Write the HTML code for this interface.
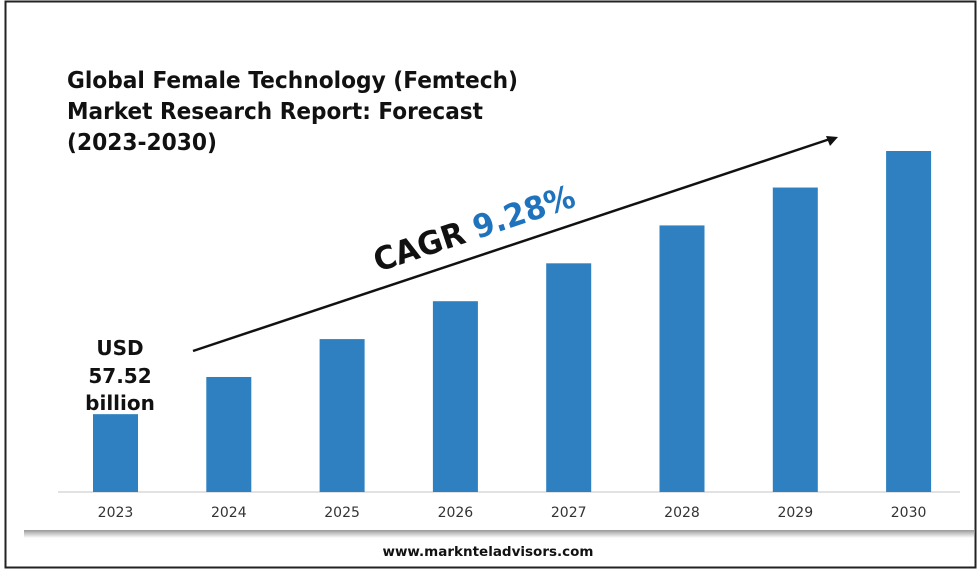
<!DOCTYPE html>
<html><head><meta charset="utf-8"><style>
body{margin:0;width:980px;height:570px;background:#fff;overflow:hidden;font-family:"DejaVu Sans","Liberation Sans",sans-serif}
</style></head><body>
<svg width="980" height="570">
<defs><linearGradient id="sh" x1="0" y1="0" x2="0" y2="1"><stop offset="0" stop-color="#999"/><stop offset="1" stop-color="#fff"/></linearGradient></defs>
<rect x="5.5" y="1.5" width="970" height="566" fill="#fff" stroke="#222" stroke-width="2"/>
<g font-weight="bold" font-size="23" fill="#111">
<text x="67" y="88" textLength="451" lengthAdjust="spacingAndGlyphs">Global Female Technology (Femtech)</text>
<text x="67" y="119" textLength="416" lengthAdjust="spacingAndGlyphs">Market Research Report: Forecast</text>
<text x="67" y="150" textLength="150" lengthAdjust="spacingAndGlyphs">(2023-2030)</text>
</g>
<line x1="58" y1="492" x2="960" y2="492" stroke="#d9d9d9" stroke-width="1.5"/>
<g id="bars"></g><g id="ticks"></g>
<g font-weight="bold" font-size="20" fill="#111" text-anchor="middle">
<text x="120" y="355">USD</text><text x="120" y="383">57.52</text><text x="120" y="410">billion</text>
</g>
<line x1="193" y1="351" x2="830" y2="139" stroke="#111" stroke-width="2.5"/>
<polygon points="838,137 826,136 830,146" fill="#111"/>
<text transform="translate(378,272) rotate(-18.4)" font-weight="bold" font-size="32" textLength="210" lengthAdjust="spacingAndGlyphs"><tspan fill="#111">CAGR </tspan><tspan fill="#1f73bd">9.28%</tspan></text>
<rect x="24" y="530" width="950" height="8" fill="url(#sh)"/>
<text x="488" y="556" text-anchor="middle" font-weight="bold" font-size="13.5" fill="#111">www.marknteladvisors.com</text>
</svg>
<script>
const categories=["2023","2024","2025","2026","2027","2028","2029","2030"];
const values=[57.52,85,113,141,169,197,225,252];
const yMax=252;
const x0=115.5,step=113.3,bw=45,base=492,plotH=341;
const ns="http://www.w3.org/2000/svg";
const bars=document.getElementById('bars'),ticks=document.getElementById('ticks');
categories.forEach((c,i)=>{
 const h=values[i]/yMax*plotH,cx=x0+i*step;
 const r=document.createElementNS(ns,'rect');
 r.setAttribute('x',cx-bw/2);r.setAttribute('y',base-h);r.setAttribute('width',bw);r.setAttribute('height',h);r.setAttribute('fill','#2e80c0');
 
 
 bars.appendChild(r);
 const t=document.createElementNS(ns,'text');
 t.setAttribute('x',cx);t.setAttribute('y',517);t.setAttribute('text-anchor','middle');t.setAttribute('font-size','14');t.setAttribute('fill','#333');
 t.textContent=c;
 
 
 ticks.appendChild(t);
});
</script>
</body></html>
